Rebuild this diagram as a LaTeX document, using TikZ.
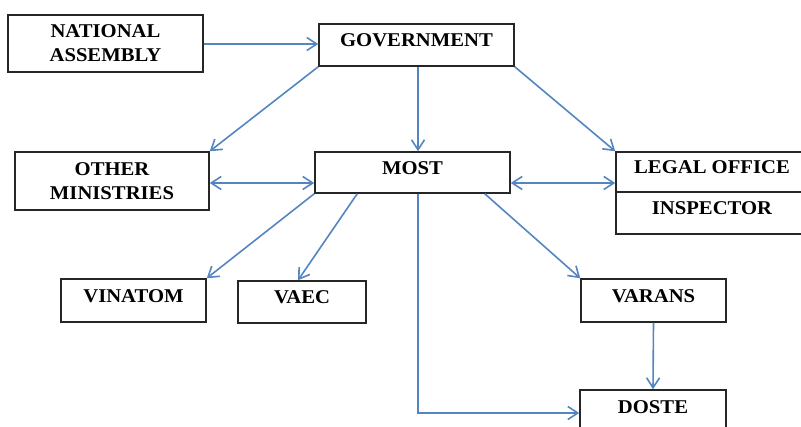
\documentclass[tikz,border=0pt]{standalone}
\usepackage{fontspec}
\setmainfont{Liberation Serif}[FakeStretch=1.06]
\usetikzlibrary{arrows.meta}
\definecolor{linkblue}{RGB}{84,133,192}
\begin{document}
\begin{tikzpicture}[x=1pt,y=-1pt,
        every node/.style={rectangle,inner sep=0pt,font=\bfseries\fontsize{19.5}{24}\selectfont},
        unit/.style={draw=black!85,line width=1.5pt,minimum width=#1},
        unit/.default=195pt,
        oneline/.style={text depth=9pt},
        barb/.tip={Straight Barb[length=10pt,width=13pt]},
        link/.style={draw=linkblue,line width=1.6pt,-barb}]
    \clip (0,0) rectangle (801,427);

    \node[unit,minimum height=57pt,align=center] (na) at (105.5,43.5) {NATIONAL\\ASSEMBLY};
    \node[unit,oneline,minimum height=42pt] (gov) at (416.5,45) {GOVERNMENT};

    \node[unit=194pt,minimum height=58pt,align=center] (other) at (112,181) {OTHER\\MINISTRIES};
    \node[unit,oneline,minimum height=41pt] (most) at (412.5,172.5) {MOST};
    \node[unit=192pt,oneline,minimum height=40pt] (legal) at (712,172) {LEGAL OFFICE};
    \node[unit=192pt,oneline,minimum height=42pt] (insp) at (712,213) {INSPECTOR};

    \node[unit=145pt,oneline,minimum height=43pt] (vinatom) at (133.5,300.5) {VINATOM};
    \node[unit=128pt,oneline,minimum height=42pt] (vaec) at (302,302) {VAEC};
    \node[unit=145pt,oneline,minimum height=43pt] (varans) at (653.5,300.5) {VARANS};
    \node[unit=146pt,oneline,minimum height=43pt] (doste) at (653,411.5) {DOSTE};

    % top level
    \draw[link] ([yshift=-0.5pt]na.east) -- ([yshift=-0.5pt]na.east -| gov.west);
    \draw[link] (gov.south west) -- (other.north east);
    \draw[link] ([xshift=1.5pt]gov.south) -- ([xshift=1.5pt]gov.south |- most.north);
    \draw[link] (gov.south east) -- (legal.north west);

    % ministry level
    \draw[link,barb-barb] ([yshift=-2pt]other.east) -- ([yshift=-2pt]other.east -| most.west);
    \draw[link,barb-barb] ([yshift=-2pt]other.east -| most.east) -- ([yshift=-2pt]other.east -| legal.west);

    % below MOST
    \draw[link] (most.south west) -- (vinatom.north east);
    \draw[link] ([xshift=43pt]most.south west) -- ([xshift=-4pt]vaec.north);
    \draw[link] ([xshift=-26pt]most.south east) -- (varans.north west);
    \draw[link] ([xshift=5.5pt]most.south) |- ([yshift=-1.5pt]doste.west);
    \draw[link] (varans.south) -- (doste.north);
\end{tikzpicture}
\end{document}
